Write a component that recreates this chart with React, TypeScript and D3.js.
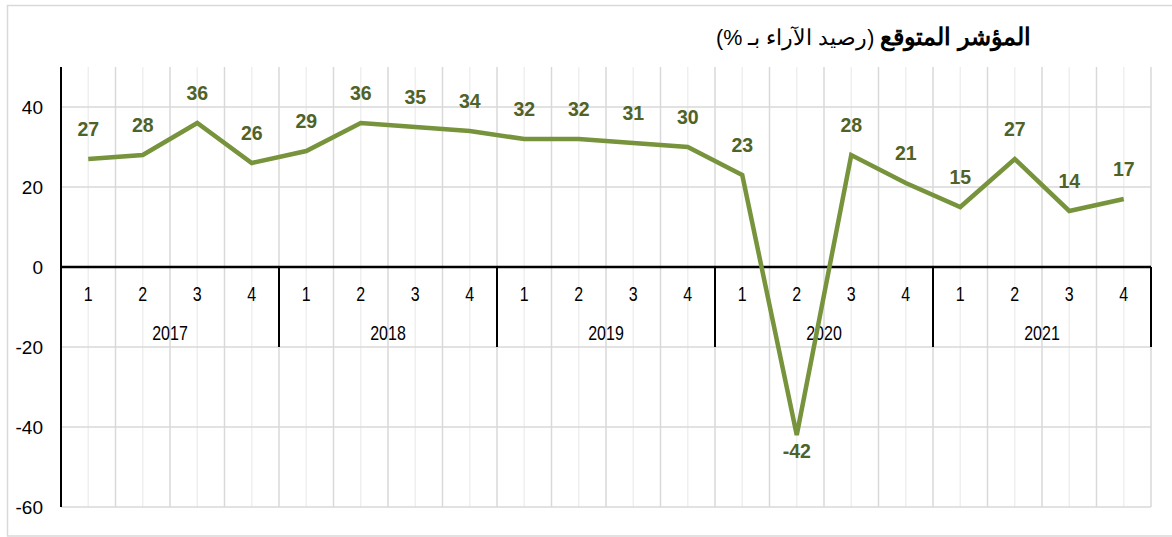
import React, { useRef, useEffect } from 'react';
import * as d3 from 'd3';

const years = ['2017', '2018', '2019', '2020', '2021'];
const quarters = ['1', '2', '3', '4'];
const values = [27, 28, 36, 26, 29, 36, 35, 34, 32, 32, 31, 30, 23, -42, 28, 21, 15, 27, 14, 17];
const yTicks = [-60, -40, -20, 0, 20, 40];
const titleBold = 'المؤشر المتوقع';
const titleRest = ' (رصيد الآراء بـ %)';

function LineChart() {
  const ref = useRef<SVGSVGElement>(null);
  const W = 1172;
  const H = 537;
  const margin = { top: 67, left: 61, right: 21, bottom: 30 };

  useEffect(() => {
    const svg = d3.select(ref.current);
    svg.selectAll('*').remove();

    const cats = d3.range(values.length);
    const x = d3.scaleBand<number>()
      .domain(cats)
      .range([margin.left, W - margin.right])
      .padding(0);
    const y = d3.scaleLinear()
      .domain([-60, 50])
      .range([H - margin.bottom, margin.top]);
    const bw = x.bandwidth();
    const cx = (i: number) => (x(i) as number) + bw / 2;
    const x0 = margin.left;
    const x1 = W - margin.right;

    // outer frame
    svg.append('rect')
      .attr('x', 7.5).attr('y', 5.5)
      .attr('width', 1170).attr('height', 530.5)
      .attr('fill', 'white')
      .attr('stroke', '#d9d9d9').attr('stroke-width', 1.5);

    // title
    const title = svg.append('text')
      .attr('x', 1031).attr('y', 45)
      .attr('direction', 'rtl')
      .attr('text-anchor', 'start')
      .style('font-family', '"Liberation Sans", Arial, sans-serif')
      .attr('fill', '#000');
    title.append('tspan').attr('font-weight', 'bold').attr('font-size', 24).text(titleBold);
    title.append('tspan').attr('font-size', 21.5).text(titleRest);

    // vertical gridlines: centers (light) and boundaries (darker)
    svg.append('g').selectAll('line.c')
      .data(cats).enter().append('line')
      .attr('x1', d => cx(d)).attr('x2', d => cx(d))
      .attr('y1', y(50)).attr('y2', y(-60))
      .attr('stroke', '#efefef').attr('stroke-width', 1.5);
    svg.append('g').selectAll('line.b')
      .data(cats.map(i => i + 1)).enter().append('line')
      .attr('x1', d => x0 + d * bw).attr('x2', d => x0 + d * bw)
      .attr('y1', y(50)).attr('y2', y(-60))
      .attr('stroke', '#d9d9d9').attr('stroke-width', 1.5);

    // horizontal gridlines
    svg.append('g').selectAll('line')
      .data(yTicks.filter(t => t !== 0)).enter().append('line')
      .attr('x1', x0).attr('x2', x1)
      .attr('y1', d => y(d)).attr('y2', d => y(d))
      .attr('stroke', '#d9d9d9').attr('stroke-width', 1.5);

    // y tick labels
    svg.append('g').selectAll('text')
      .data(yTicks).enter().append('text')
      .attr('x', 43).attr('y', d => y(d) + 6.5)
      .attr('text-anchor', 'end')
      .attr('font-size', 19)
      .style('font-family', '"Liberation Sans", Arial, sans-serif')
      .text(d => d);

    // year separators
    svg.append('g').selectAll('line')
      .data(d3.range(years.length + 1)).enter().append('line')
      .attr('x1', d => x0 + d * 4 * bw).attr('x2', d => x0 + d * 4 * bw)
      .attr('y1', y(0)).attr('y2', y(-20))
      .attr('stroke', '#000').attr('stroke-width', 2);

    // axes
    svg.append('line')
      .attr('x1', x0).attr('x2', x1)
      .attr('y1', y(0)).attr('y2', y(0))
      .attr('stroke', '#000').attr('stroke-width', 2.5);
    svg.append('line')
      .attr('x1', x0).attr('x2', x0)
      .attr('y1', y(50)).attr('y2', y(-60))
      .attr('stroke', '#000').attr('stroke-width', 2);

    // narrow look for category labels: horizontally squeezed text
    const font = '"Liberation Sans", Arial, sans-serif';

    // quarter labels
    svg.append('g').selectAll('text')
      .data(cats).enter().append('text')
      .attr('transform', d => `translate(${cx(d)},${y(0) + 34}) scale(0.78,1)`)
      .attr('text-anchor', 'middle')
      .attr('font-size', 20.5)
      .style('font-family', font)
      .text(d => quarters[d % 4]);

    // year labels
    svg.append('g').selectAll('text')
      .data(years).enter().append('text')
      .attr('transform', (d, i) => `translate(${x0 + (i * 4 + 2) * bw},${y(0) + 73}) scale(0.78,1)`)
      .attr('text-anchor', 'middle')
      .attr('font-size', 20.5)
      .style('font-family', font)
      .text(d => d);

    // line
    const line = d3.line<number>()
      .x((d, i) => cx(i))
      .y(d => y(d));
    svg.append('path')
      .datum(values)
      .attr('d', line)
      .attr('fill', 'none')
      .attr('stroke', '#77933C')
      .attr('stroke-width', 4.5)
      .attr('stroke-linejoin', 'miter');

    // data labels
    svg.append('g').selectAll('text')
      .data(values).enter().append('text')
      .attr('x', (d, i) => cx(i))
      .attr('y', d => d < 0 ? y(d) + 22.5 : y(d) - 23.5)
      .attr('text-anchor', 'middle')
      .attr('font-size', 19.5)
      .attr('font-weight', 'bold')
      .attr('fill', '#4F6228')
      .style('font-family', font)
      .text(d => d);
  }, []);

  return (
    <svg ref={ref} width={W} height={H}
      style={{ position: 'absolute', left: 0, top: 0, background: 'white' }}>
    </svg>
  );
}

export default function App() {
  return <LineChart />;
}
